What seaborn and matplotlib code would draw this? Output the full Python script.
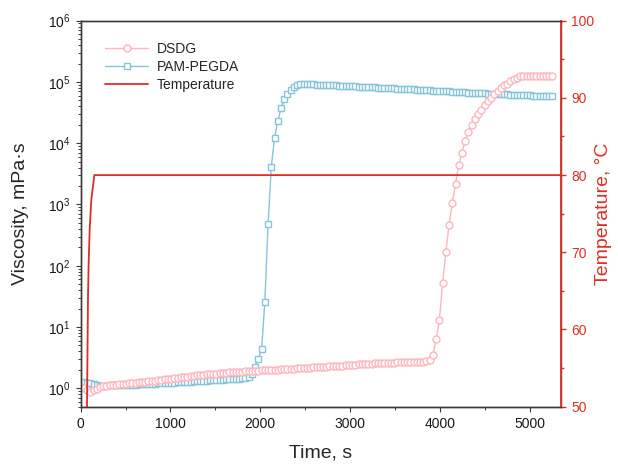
import matplotlib
matplotlib.use("Agg")
import matplotlib.pyplot as plt
import seaborn as sns
import pandas as pd
from matplotlib.ticker import MultipleLocator, LogLocator, NullFormatter
from matplotlib.lines import Line2D

# ---------------- data ----------------
time_s = [
    35, 71, 107, 143, 179, 215, 251, 287, 323, 359,
    395, 431, 467, 503, 539, 575, 611, 647, 683, 719,
    755, 791, 827, 863, 899, 935, 971, 1007, 1043, 1079,
    1115, 1151, 1187, 1223, 1259, 1295, 1331, 1367, 1403, 1439,
    1475, 1511, 1547, 1583, 1619, 1655, 1691, 1727, 1763, 1799,
    1835, 1871, 1907, 1943, 1979, 2015, 2051, 2087, 2123, 2159,
    2195, 2231, 2267, 2303, 2339, 2375, 2411, 2447, 2483, 2519,
    2555, 2591, 2627, 2663, 2699, 2735, 2771, 2807, 2843, 2879,
    2915, 2951, 2987, 3023, 3059, 3095, 3131, 3167, 3203, 3239,
    3275, 3311, 3347, 3383, 3419, 3455, 3491, 3527, 3563, 3599,
    3635, 3671, 3707, 3743, 3779, 3815, 3851, 3887, 3923, 3959,
    3995, 4031, 4067, 4103, 4139, 4175, 4211, 4247, 4283, 4319,
    4355, 4391, 4427, 4463, 4499, 4535, 4571, 4607, 4643, 4679,
    4715, 4751, 4787, 4823, 4859, 4895, 4931, 4967, 5003, 5039,
    5075, 5111, 5147, 5183, 5219, 5255,
]

dsdg_visc = [
    1.02, 0.92, 0.88, 0.92, 0.99, 1.04, 1.07, 1.09, 1.11, 1.13,
    1.14, 1.16, 1.17, 1.19, 1.20, 1.22, 1.23, 1.25, 1.26, 1.28,
    1.30, 1.31, 1.33, 1.35, 1.37, 1.39, 1.41, 1.43, 1.45, 1.47,
    1.50, 1.52, 1.55, 1.58, 1.60, 1.62, 1.64, 1.66, 1.68, 1.70,
    1.72, 1.74, 1.76, 1.78, 1.80, 1.81, 1.83, 1.84, 1.86, 1.87,
    1.89, 1.90, 1.91, 1.93, 1.94, 1.95, 1.97, 1.98, 1.99, 2.01,
    2.02, 2.04, 2.05, 2.07, 2.08, 2.10, 2.11, 2.13, 2.14, 2.16,
    2.17, 2.19, 2.20, 2.22, 2.23, 2.25, 2.27, 2.29, 2.31, 2.33,
    2.35, 2.37, 2.39, 2.41, 2.43, 2.45, 2.47, 2.49, 2.51, 2.53,
    2.55, 2.57, 2.59, 2.60, 2.61, 2.62, 2.63, 2.64, 2.65, 2.66,
    2.67, 2.68, 2.69, 2.70, 2.71, 2.73, 2.76, 2.85, 3.5, 6.3,
    12.9, 52, 165, 468, 1050, 2180, 4460, 7000, 11000, 15500,
    19900, 24800, 29900, 34700, 41900, 48600, 55000, 63000, 70000, 78400,
    89000, 93300, 102000, 110000, 118000, 124000, 126000, 127000, 127000, 127000,
    127000, 127000, 127000, 127000, 126500, 126500,
]

pam_pegda_visc = [
    1.25, 1.24, 1.22, 1.18, 1.12, 1.10, 1.10, 1.10, 1.11, 1.11,
    1.12, 1.12, 1.13, 1.13, 1.14, 1.15, 1.15, 1.16, 1.17, 1.17,
    1.18, 1.19, 1.19, 1.20, 1.21, 1.22, 1.22, 1.23, 1.24, 1.25,
    1.25, 1.26, 1.27, 1.28, 1.29, 1.30, 1.31, 1.32, 1.33, 1.34,
    1.35, 1.36, 1.37, 1.38, 1.39, 1.40, 1.41, 1.42, 1.43, 1.45,
    1.48, 1.53, 1.68, 2.26, 3.02, 4.33, 25.7, 481, 4140, 12160,
    23300, 37000, 52600, 63000, 74600, 83300, 88000, 91000, 92000, 92000,
    91500, 91000, 90500, 90000, 89500, 89000, 88500, 88000, 87500, 87000,
    86500, 86000, 85500, 85000, 84500, 84000, 83500, 83000, 82500, 82000,
    81500, 81000, 80500, 80000, 79500, 79000, 78500, 78000, 77500, 77000,
    76500, 76000, 75500, 75000, 74500, 74000, 73500, 73000, 72500, 72000,
    71500, 71000, 70500, 70000, 69500, 69000, 68500, 68000, 67500, 67000,
    66600, 66200, 65800, 65400, 65000, 64600, 64200, 63800, 63400, 63000,
    62700, 62400, 62100, 61800, 61500, 61200, 60900, 60600, 60300, 60000,
    59800, 59600, 59400, 59200, 59000, 58800,
]

temp_time_s = [0, 70, 81, 88, 100, 118, 152, 5400]
temp_c = [25, 50, 64, 68.4, 73, 76.8, 80, 80]

series_labels = ["DSDG", "PAM-PEGDA", "Temperature"]

# ---------------- style ----------------
sns.set_theme(style="ticks")
plt.rcParams["font.family"] = ["Liberation Sans", "DejaVu Sans"]
plt.rcParams["mathtext.default"] = "regular"

PINK = "#ffb5bf"
BLUE = "#86c4da"
RED = "#dc2f24"
DARK = "#3a3a3a"

fig = plt.figure(figsize=(6.18, 4.68), dpi=100)
ax = fig.add_axes([0.1306, 0.131, 0.7772, 0.8248])
ax2 = ax.twinx()

df_dsdg = pd.DataFrame({"t": time_s, "v": dsdg_visc})
df_pam = pd.DataFrame({"t": time_s, "v": pam_pegda_visc})
df_temp = pd.DataFrame({"t": temp_time_s, "T": temp_c})

sns.lineplot(data=df_pam, x="t", y="v", ax=ax, color=BLUE, linewidth=1.0,
             marker="s", markersize=4.2, markerfacecolor="white",
             markeredgecolor=BLUE, markeredgewidth=1.0, sort=False)
sns.lineplot(data=df_dsdg, x="t", y="v", ax=ax, color=PINK, linewidth=1.0,
             marker="o", markersize=5.0, markerfacecolor="white",
             markeredgecolor=PINK, markeredgewidth=1.0, sort=False)
sns.lineplot(data=df_temp, x="t", y="T", ax=ax2, color=RED, linewidth=1.3, sort=False)

ax.set_yscale("log")
ax.set_xlim(0, 5350)
ax.set_ylim(0.5, 1e6)
ax2.set_ylim(50, 100)

ax.xaxis.set_major_locator(MultipleLocator(1000))
ax.xaxis.set_minor_locator(MultipleLocator(500))
ax.yaxis.set_major_locator(LogLocator(base=10, numticks=20))
ax.yaxis.set_minor_locator(LogLocator(base=10, subs=range(2, 10), numticks=20))
ax.yaxis.set_minor_formatter(NullFormatter())
ax2.yaxis.set_major_locator(MultipleLocator(10))
ax2.yaxis.set_minor_locator(MultipleLocator(5))

ax2.set_xlabel("")
ax.set_xlabel("Time, s", fontsize=14)
ax.set_ylabel("Viscosity, mPa·s", fontsize=14)
ax2.set_ylabel("Temperature, °C", fontsize=14, color=RED)
ax.xaxis.set_label_coords(0.5, -0.099)
ax.yaxis.set_label_coords(-0.107, 0.5)
ax2.yaxis.set_label_coords(1.0705, 0.5)

for a in (ax, ax2):
    for s in a.spines.values():
        s.set_linewidth(1.0)
        s.set_color(DARK)
ax2.spines["right"].set_color(RED)
ax2.spines["right"].set_linewidth(1.3)

ax.tick_params(axis="both", which="major", direction="out", length=3.5, width=0.8,
               color=DARK, labelsize=10, labelcolor="#1a1a1a", pad=4)
ax.tick_params(axis="both", which="minor", direction="out", length=2.0, width=0.7, color=DARK)
ax.tick_params(axis="y", which="both", right=False)
ax.tick_params(axis="x", which="both", top=False)
ax2.tick_params(axis="y", which="major", direction="out", length=3.5, width=1.0,
                color=RED, labelcolor=RED, labelsize=10, pad=4)
ax2.tick_params(axis="y", which="minor", direction="out", length=2.0, width=1.0, color=RED)
ax2.tick_params(axis="x", which="both", bottom=False, top=False,
                labelbottom=False, labeltop=False)

handles = [
    Line2D([], [], color=PINK, marker="o", markersize=5.0, markerfacecolor="white",
           markeredgecolor=PINK, markeredgewidth=1.0, linewidth=1.0),
    Line2D([], [], color=BLUE, marker="s", markersize=4.2, markerfacecolor="white",
           markeredgecolor=BLUE, markeredgewidth=1.0, linewidth=1.0),
    Line2D([], [], color=RED, linewidth=1.3),
]
if ax.get_legend() is not None:
    ax.get_legend().remove()
if ax2.get_legend() is not None:
    ax2.get_legend().remove()
ax2.legend(handles, series_labels, loc="upper left", bbox_to_anchor=(0.0506, 0.945),
           frameon=False, fontsize=10, handlelength=3.1, handletextpad=0.6,
           labelspacing=0.3, borderpad=0, borderaxespad=0, numpoints=1)

fig.savefig("out.png", dpi=100)
